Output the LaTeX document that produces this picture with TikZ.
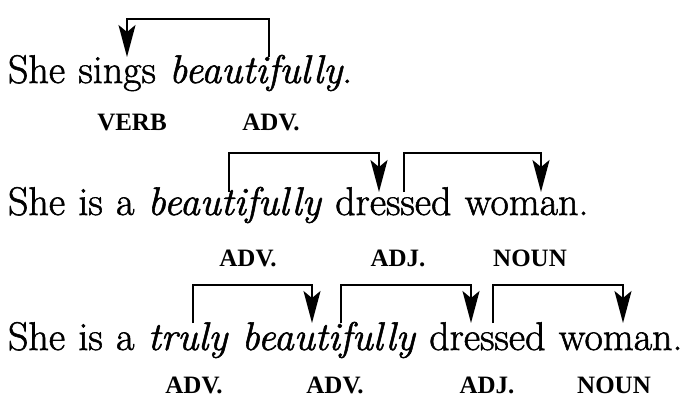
\documentclass[tikz,border=0pt]{standalone}
\usepackage{fontspec}
\setmainfont{Latin Modern Roman}[FakeBold=1.4]
\newfontfamily\labfam{Liberation Serif}
\usetikzlibrary{arrows.meta,calc}
\newlength\wsp
\newcommand\sent{\fontsize{40}{48}\selectfont}
\newcommand\labf{\labfam\fontsize{25}{28}\selectfont\bfseries}
\tikzset{
  w/.style={anchor=base west,inner sep=0pt,outer sep=0pt,font=\sent},
  lab/.style={inner sep=0pt,font=\labf},
  brk/.style={line width=1.9pt,line join=miter,-{Stealth[length=32pt,width=17pt,inset=7pt]}},
}
\begin{document}
\setlength\wsp{13.3pt}%
\begin{tikzpicture}[x=1pt,y=1pt]
\useasboundingbox (0,0) rectangle (690,-400);
% line 1
\node[w] (a1) at (8,-83) {She};
\node[w] (a2) at ([xshift=\wsp]a1.base east) {sings};
\node[w] (a3) at ([xshift=\wsp]a2.base east) {\textit{beautifully}.};
% line 2
\node[w] (b1) at (8,-215) {She};
\node[w] (b2) at ([xshift=\wsp]b1.base east) {is};
\node[w] (b3) at ([xshift=\wsp]b2.base east) {a};
\node[w] (b4) at ([xshift=\wsp]b3.base east) {\textit{beautifully}};
\node[w] (b5) at ([xshift=\wsp]b4.base east) {dressed};
\node[w] (b6) at ([xshift=\wsp]b5.base east) {woman.};
% line 3
\node[w] (c1) at (8,-350) {She};
\node[w] (c2) at ([xshift=\wsp]c1.base east) {is};
\node[w] (c3) at ([xshift=\wsp]c2.base east) {a};
\node[w] (c4) at ([xshift=\wsp]c3.base east) {\textit{truly}};
\node[w] (c5) at ([xshift=\wsp]c4.base east) {\textit{beautifully}};
\node[w] (c6) at ([xshift=\wsp]c5.base east) {dressed};
\node[w] (c7) at ([xshift=\wsp]c6.base east) {woman.};
% labels
\node[lab] (l1) at (132,-122) {VERB};
\node[lab] (l2) at (271,-122) {ADV.};
\node[lab] (m1) at (248,-258) {ADV.};
\node[lab] (m2) at (398,-258) {ADJ.};
\node[lab] (m3) at (530,-258) {NOUN};
\node[lab] (n1) at (194,-385) {ADV.};
\node[lab] (n2) at (335,-385) {ADV.};
\node[lab] (n3) at (487,-385) {ADJ.};
\node[lab] (n4) at (614,-385) {NOUN};
% connector points
\coordinate (p1s) at (269,-57);
\coordinate (p1t) at (127,-57);
\coordinate (q1s) at (229,-192);
\coordinate (q1t) at (379,-192);
\coordinate (q2s) at (404,-192);
\coordinate (q2t) at (541,-192);
\coordinate (r1s) at (193,-323);
\coordinate (r1t) at (312,-323);
\coordinate (r2s) at (341,-323);
\coordinate (r2t) at (471,-323);
\coordinate (r3s) at (493,-323);
\coordinate (r3t) at (623,-323);
% brackets
\draw[brk] (p1s) |- (127,-19) -- (p1t);
\draw[brk] (q1s) |- (379,-153) -- (q1t);
\draw[brk] (q2s) |- (541,-153) -- (q2t);
\draw[brk] (r1s) |- (312,-285) -- (r1t);
\draw[brk] (r2s) |- (471,-285) -- (r2t);
\draw[brk] (r3s) |- (623,-285) -- (r3t);
\end{tikzpicture}
\end{document}
